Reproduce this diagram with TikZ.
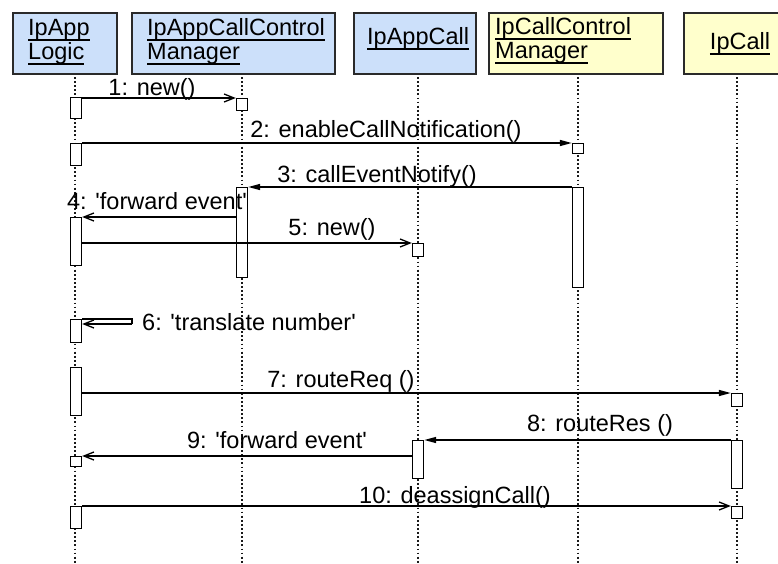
\documentclass[tikz,border=0pt]{standalone}
\usepackage{fontspec}
\setmainfont{Liberation Sans}
\usetikzlibrary{arrows.meta}

\definecolor{appblue}{HTML}{CCE0FA}
\definecolor{gwyellow}{HTML}{FFFFCC}
\definecolor{framegray}{HTML}{2A2A2A}

% underlined object name
\newcommand\objname[1]{\setbox0=\hbox{#1}\rlap{\rule[-5.5pt]{\wd0}{1.5pt}}\box0}
\newcommand\q{\textquotesingle}

\tikzset{
  txt/.style={font=\fontsize{23.5}{24}\selectfont, inner sep=0pt},
  head/.style={draw=framegray, line width=1.5pt, anchor=north west, inner sep=0pt},
  apphead/.style={head, fill=appblue},
  gwhead/.style={head, fill=gwyellow},
  lifeline/.style={line width=1.5pt, black!90, dash pattern=on 1.8pt off 2.3pt},
  act/.style={draw, fill=white, line width=1.4pt, minimum width=11pt, inner sep=0pt, anchor=north},
  msg/.style={line width=1.5pt},
  async/.style={msg, -{Straight Barb[length=10pt, width=8pt, line width=1.3pt]}},
  sync/.style={msg, -{Triangle[length=12pt, width=6pt]}},
}

\begin{document}
\begin{tikzpicture}[x=1pt, y=-1pt]
\useasboundingbox (0,0) rectangle (778,563);
\clip (0,0) rectangle (778,563);

% object heads
\node[apphead, minimum width=104pt, minimum height=61pt] (h1) at (12,12) {};
\node[apphead, minimum width=203pt, minimum height=61pt] (h2) at (131,12) {};
\node[apphead, minimum width=122pt, minimum height=61pt] (h3) at (353,12) {};
\node[gwhead, minimum width=174pt, minimum height=61pt] (h4) at (488,12) {};
\node[gwhead, minimum width=120pt, minimum height=61pt] (h5) at (683,12) {};

% object names (base anchor of a two-line node sits on its last line)
\node[txt, anchor=base west, align=left] (t1) at (28,59) {\objname{IpApp}\\\objname{Logic}};
\node[txt, anchor=base west, align=left] (t2) at (147,59) {\objname{IpAppCallControl}\\\objname{Manager}};
\node[txt, anchor=base west] (t3) at (367,44) {\objname{IpAppCall}};
\node[txt, anchor=base west, align=left] (t4) at (495,58) {\objname{IpCallControl}\\\objname{Manager}};
\node[txt, anchor=base] (t5) at (740,49) {\objname{IpCall}};

% lifelines
\coordinate (l1a) at (75,77);  \coordinate (l1b) at (75,563);
\coordinate (l2a) at (242,77); \coordinate (l2b) at (242,563);
\coordinate (l3a) at (418,77); \coordinate (l3b) at (418,563);
\coordinate (l4a) at (578,77); \coordinate (l4b) at (578,563);
\coordinate (l5a) at (737,77); \coordinate (l5b) at (737,563);
\foreach \i in {1,...,5} \draw[lifeline] (l\i a) -- (l\i b);

% activations
\node[act, minimum height=21pt] (a1)  at (76,97)  {};
\node[act, minimum height=12pt] (b1)  at (242,98) {};
\node[act, minimum height=22pt] (a2)  at (76,143) {};
\node[act, minimum height=10pt] (b2)  at (578,143) {};
\node[act, minimum height=100pt] (c3) at (578,187) {};
\node[act, minimum height=90pt] (d3)  at (242,187) {};
\node[act, minimum height=48pt] (a4)  at (76,217) {};
\node[act, minimum height=13pt] (b5)  at (418,243) {};
\node[act, minimum height=23pt] (a6)  at (76,319) {};
\node[act, minimum height=48pt] (a7)  at (76,367) {};
\node[act, minimum height=13pt] (b7)  at (737,393) {};
\node[act, minimum height=48pt] (c8)  at (737,440) {};
\node[act, minimum height=38pt] (d8)  at (418,440) {};
\node[act, minimum height=10pt] (b9)  at (76,456) {};
\node[act, minimum height=22pt] (a10) at (76,506) {};
\node[act, minimum height=12pt] (b10) at (737,506) {};

% messages
\draw[async] (a1.east |- b1.north) -- (b1.north west);
\draw[sync]  (a2.north east) -- (b2.north west);
\draw[sync]  (c3.north west) -- (d3.north east);
\draw[async] (d3.west |- a4.north) -- (a4.north east);
\draw[async] (a4.east |- b5.north) -- (b5.north west);
\draw[msg] (a6.north east) -- ++(50,0) coordinate (loop6) -- ++(0,5);
\draw[async] (loop6) ++(0,5) -- ([yshift=-5pt]a6.north east);
\draw[sync]  (a7.east |- b7.north) -- (b7.north west);
\draw[sync]  (c8.north west) -- (d8.north east);
\draw[async] (d8.west |- b9.north) -- (b9.north east);
\draw[async] (a10.north east) -- (b10.north west);

% message labels
\node[txt, anchor=base] (m1)  at (152,95)  {1: new()};
\node[txt, anchor=base] (m2)  at (386,137) {2: enableCallNotification()};
\node[txt, anchor=base] (m3)  at (377,182) {3: callEventNotify()};
\node[txt, anchor=base] (m4)  at (157,209) {4: \q forward event\q};
\node[txt, anchor=base] (m5)  at (332,235) {5: new()};
\node[txt, anchor=base west] (m6) at (142,330) {6: \q translate number\q};
\node[txt, anchor=base] (m7)  at (341,387) {7: routeReq ()};
\node[txt, anchor=base] (m8)  at (600,431) {8: routeRes ()};
\node[txt, anchor=base] (m9)  at (277,448) {9: \q forward event\q};
\node[txt, anchor=base] (m10) at (455,503) {10: deassignCall()};
\end{tikzpicture}
\end{document}
